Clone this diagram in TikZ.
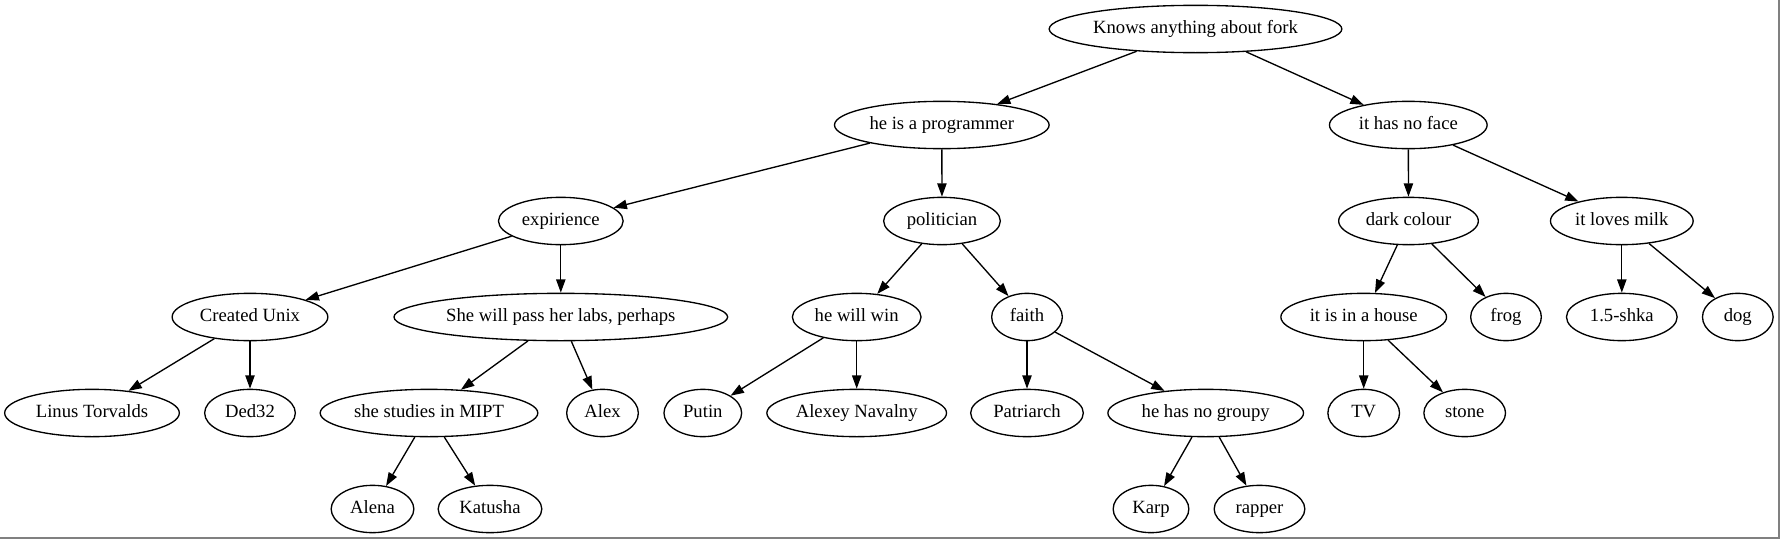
\documentclass[tikz,border=0pt]{standalone}
\usepackage{fontspec}
\setmainfont{Liberation Serif}
\usetikzlibrary{shapes.geometric,arrows.meta}
\tikzset{
  gv/.style={draw, ellipse, line width=1pt, inner sep=0pt, minimum height=35.5pt,
    text height=9.6pt, text depth=3pt,
    font=\fontsize{14pt}{16pt}\selectfont},
  edge/.style={line width=1pt, -{Triangle[length=10pt,width=7pt]}},
  frame/.style={draw=gray, line width=1.5pt}
}
\newcommand{\gvnode}[4]{\node[gv, minimum width=#3*0.75pt-1pt] (#1) at #2 {#4};}
\begin{document}
\begin{tikzpicture}[x=0.75pt,y=-0.75pt]
\useasboundingbox (0,0) rectangle (1780,539);
\draw[frame] (0,537.8) -- (1778.8,537.8) -- (1778.8,0);
% level 0
\gvnode{root}{(1195.5,29)}{294}{Knows anything about fork}
% level 1
\gvnode{hip}{(941.8,125)}{216}{he is a programmer}
\gvnode{face}{(1408.3,125)}{159}{it has no face}
% level 2
\gvnode{exp}{(560.8,221)}{126}{expirience}
\gvnode{pol}{(942,221)}{118}{politician}
\gvnode{dark}{(1408.5,221)}{141}{dark colour}
\gvnode{milk}{(1621.8,221)}{144}{it loves milk}
% level 3
\gvnode{unix}{(250,317)}{157}{Created Unix}
\gvnode{labs}{(560.8,317)}{335}{She will pass her labs, perhaps}
\gvnode{win}{(856.7,317)}{130}{he will win}
\gvnode{faith}{(1027,317)}{72}{faith}
\gvnode{house}{(1363.7,317)}{167}{it is in a house}
\gvnode{frog}{(1506,317)}{72}{frog}
\gvnode{shka}{(1621.8,317)}{112}{1.5-shka}
\gvnode{dog}{(1737.8,317)}{72}{dog}
% level 4
\gvnode{linus}{(92,413)}{176}{Linus Torvalds}
\gvnode{ded}{(250,413)}{92}{Ded32}
\gvnode{mipt}{(429,413)}{219}{she studies in MIPT}
\gvnode{alex}{(602.5,413)}{73}{Alex}
\gvnode{putin}{(702.8,413)}{79}{Putin}
\gvnode{nav}{(856.7,413)}{181}{Alexey Navalny}
\gvnode{patr}{(1027,413)}{114}{Patriarch}
\gvnode{groupy}{(1205.7,413)}{197}{he has no groupy}
\gvnode{tv}{(1363.7,413)}{73}{TV}
\gvnode{stone}{(1464.7,413)}{83}{stone}
% level 5
\gvnode{alena}{(372.5,509)}{84}{Alena}
\gvnode{katusha}{(490,509)}{105}{Katusha}
\gvnode{karp}{(1151,509)}{77}{Karp}
\gvnode{rapper}{(1259.5,509)}{92}{rapper}
% edges
\foreach \a/\b in {root/hip, root/face, hip/exp, hip/pol, face/dark, face/milk,
  exp/unix, exp/labs, pol/win, pol/faith, dark/house, dark/frog, milk/shka, milk/dog,
  unix/linus, unix/ded, labs/mipt, labs/alex, win/putin, win/nav, faith/patr, faith/groupy,
  house/tv, house/stone, mipt/alena, mipt/katusha, groupy/karp, groupy/rapper}
  \draw[edge] (\a) -- (\b);
\end{tikzpicture}
\end{document}
